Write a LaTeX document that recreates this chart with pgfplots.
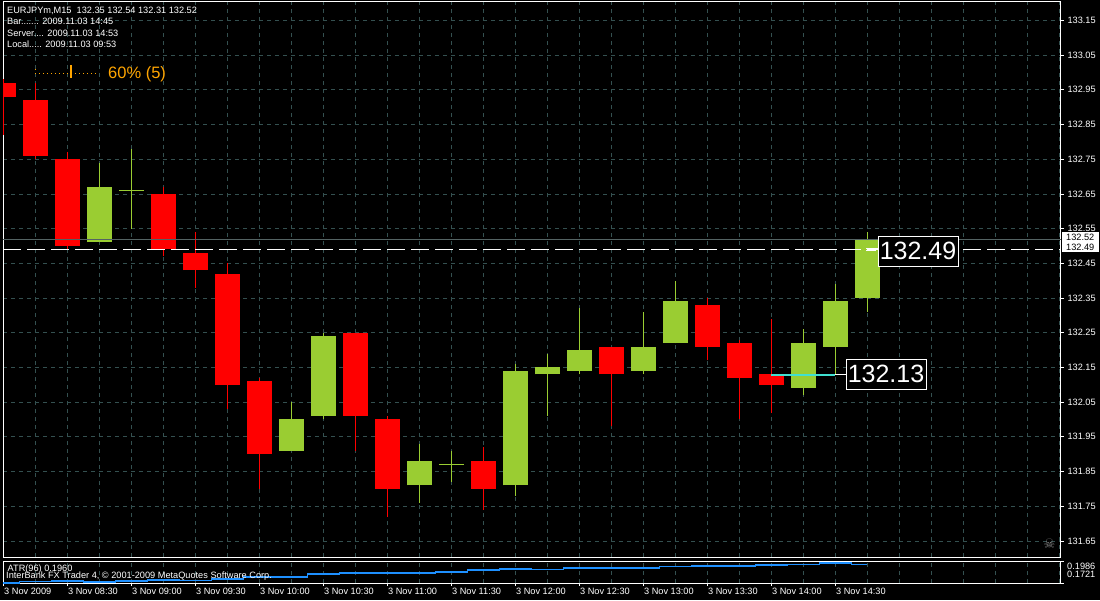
\documentclass[border=0pt]{standalone}
\usepackage{fontspec}
\setmainfont{Liberation Sans}
\newfontfamily\symfont{DejaVu Sans}
\usepackage{pgfplots}
\pgfplotsset{compat=1.18}
\usepackage{pgfplotstable}

\definecolor{bull}{RGB}{154,205,50}
\definecolor{bear}{RGB}{255,0,0}
\definecolor{gridc}{RGB}{52,80,80}
\definecolor{bidc}{RGB}{84,99,99}
\definecolor{atrc}{RGB}{30,144,255}
\definecolor{lblo}{RGB}{255,165,0}
\definecolor{trendc}{RGB}{64,224,208}
\newcommand\fs{\fontsize{9.2}{11}\selectfont}

% EURJPYm M15, bar index 0 = 08:00
\pgfplotstableread{
i o h l c
0 132.97 132.98 132.82 132.93
1 132.92 132.97 132.75 132.76
2 132.75 132.77 132.49 132.50
5 132.65 132.67 132.47 132.49
6 132.48 132.54 132.38 132.43
7 132.42 132.45 132.03 132.10
8 132.11 132.12 131.80 131.90
11 132.25 132.25 131.91 132.01
12 132.00 132.01 131.72 131.80
15 131.88 131.92 131.74 131.80
19 132.21 132.21 131.98 132.13
22 132.33 132.35 132.17 132.21
23 132.22 132.23 132.00 132.12
24 132.13 132.29 132.02 132.10
}\bear

\pgfplotstableread{
i o h l c
3 132.51 132.74 132.51 132.67
9 131.91 132.05 131.91 132.00
10 132.01 132.25 132.00 132.24
13 131.81 131.93 131.76 131.88
16 131.81 132.16 131.78 132.14
17 132.13 132.19 132.01 132.15
18 132.14 132.32 132.13 132.20
20 132.14 132.31 132.13 132.21
21 132.22 132.40 132.22 132.34
25 132.09 132.26 132.07 132.22
26 132.21 132.39 132.13 132.34
27 132.35 132.54 132.31 132.52
}\bull

\pgfplotstableread{
i o h l c
4 132.66 132.78 132.55 132.66
14 131.87 131.91 131.82 131.87
}\doji

\pgfplotstableread{
i atr
0 0.1721
1 0.1738
2 0.1745
3 0.1733
4 0.1745
5 0.1757
6 0.1751
7 0.1769
8 0.1793
9 0.1793
10 0.1829
11 0.1841
12 0.1841
13 0.1841
14 0.1854
15 0.1878
16 0.1890
17 0.1882
18 0.1902
19 0.1902
20 0.1902
21 0.1916
22 0.1926
23 0.1926
24 0.1938
25 0.1946
26 0.1962
27 0.1946
}\atr

\pgfplotsset{
  candle/.style 2 args={only marks, mark=*, mark size=0pt, mark options={draw=none, fill=none},
    error bars/.cd, y dir=plus, y explicit, error mark=none,
    error bar style={line width=#2, #1}},
}

\begin{document}
\begin{tikzpicture}
\fill[black] (0,0) rectangle (1100pt,-600pt);

\begin{axis}[
  at={(3pt,-557pt)}, anchor=south west,
  width=1058pt, height=556pt, scale only axis,
  xmin=-0.0156, xmax=33.05, ymin=131.6036, ymax=133.2059,
  axis line style={white, line width=1pt},
  xtick={0,...,33}, xticklabels={}, xtick style={draw=none},
  ytick={131.65,131.75,131.85,131.95,132.05,132.15,132.25,132.35,132.45,132.55,132.65,132.75,132.85,132.95,133.05,133.15},
  ytick pos=right, yticklabel pos=right,
  tick align=outside, major tick length=3pt,
  ytick style={white, line width=0.8pt},
  grid=major, grid style={gridc, dash pattern=on 4pt off 4pt, line width=0.8pt},
  /pgf/number format/assume math mode=true,
  yticklabel style={white, font=\fs, /pgf/number format/fixed, /pgf/number format/fixed zerofill, /pgf/number format/precision=2},
]
% wicks
\addplot[bear, candle={bear}{1pt}] table[x=i, y=l, y error expr=\thisrow{h}-\thisrow{l}] {\bear};
\addplot[bull, candle={bull}{1pt}] table[x=i, y=l, y error expr=\thisrow{h}-\thisrow{l}] {\bull};
\addplot[bull, candle={bull}{1pt}] table[x=i, y=l, y error expr=\thisrow{h}-\thisrow{l}] {\doji};
% bodies
\addplot[bear, candle={bear}{25pt}] table[x=i, y=c, y error expr=\thisrow{o}-\thisrow{c}] {\bear};
\addplot[bull, candle={bull}{25pt}] table[x=i, y=o, y error expr=\thisrow{c}-\thisrow{o}] {\bull};
\addplot[bull, only marks, mark=-, mark size=12.5pt, mark options={line width=1.2pt}]
  table[x=i, y=o] {\doji};
% price lines
\addplot[bidc, line width=1pt] coordinates {(-1,132.52) (40,132.52)};
\addplot[white, line width=1pt, dash pattern=on 18pt off 6pt] coordinates {(-0.0156,132.49) (40,132.49)};
\addplot[trendc, line width=2pt] coordinates {(24,132.128) (26,132.128)};
\end{axis}

\begin{axis}[
  at={(3pt,-583pt)}, anchor=south west,
  width=1058pt, height=22pt, scale only axis,
  xmin=-0.0156, xmax=33.05, ymin=0.1721, ymax=0.1986,
  axis line style={white, line width=1pt},
  xtick={0,2,...,26},
  xticklabels={3 Nov 2009,3 Nov 08:30,3 Nov 09:00,3 Nov 09:30,3 Nov 10:00,3 Nov 10:30,3 Nov 11:00,3 Nov 11:30,3 Nov 12:00,3 Nov 12:30,3 Nov 13:00,3 Nov 13:30,3 Nov 14:00,3 Nov 14:30},
  minor xtick={1,3,...,33,28,30,32},
  xmajorgrids, xminorgrids,
  grid style={gridc, dash pattern=on 4pt off 4pt, line width=0.8pt},
  minor grid style={gridc, dash pattern=on 4pt off 4pt, line width=0.8pt},
  xtick pos=left, ytick pos=right,
  tick align=outside, major tick length=3pt, minor tick length=0pt,
  tick style={white, line width=0.8pt},
  xticklabel style={white, font=\fs, anchor=north west, inner sep=0pt, xshift=0.5pt, yshift=-1.5pt},
  ytick={0.1721,0.1986}, yticklabels={},
]
\addplot[atrc, line width=1.2pt, const plot mark mid] table[x=i, y=atr] {\atr};
\end{axis}

% header text
\begin{scope}[every node/.style={inner sep=0pt, anchor=base west, text=white, font=\fs}]
\node at (7pt,-13.5pt) {EURJPYm,M15\ \ 132.35 132.54 132.31 132.52};
\node at (7pt,-24.5pt) {Bar....... 2009.11.03 14:45};
\node at (7pt,-36pt) {Server.... 2009.11.03 14:53};
\node at (7pt,-47.5pt) {Local..... 2009.11.03 09:53};
\node at (7.5pt,-571.5pt) {ATR(96) 0.1960};
\node at (6pt,-578.5pt) {InterBank FX Trader 4, © 2001-2009 MetaQuotes Software Corp.};
\node at (1067pt,-569.5pt) {0.1986};
\node at (1067pt,-577.5pt) {0.1721};
\end{scope}

% orange indicator label
\draw[lblo, line width=1pt, dash pattern=on 1pt off 3pt] (35pt,-73pt) -- (98pt,-73pt);
\fill[lblo] (34.5pt,-69.5pt) rectangle (35.5pt,-68.5pt);
\draw[lblo, line width=1.2pt] (71pt,-65pt) -- (71pt,-78pt);
\node[inner sep=0pt, anchor=base west, text=lblo, font=\fontsize{16.5}{18}\selectfont] at (108pt,-78pt) {60\% (5)};

% right scale price boxes
\fill[white] (1062pt,-232pt) rectangle (1099pt,-252pt);
\node[inner sep=0pt, anchor=base west, text=black, font=\fs] at (1066pt,-240.5pt) {132.52};
\node[inner sep=0pt, anchor=base west, text=black, font=\fs] at (1066pt,-250.5pt) {132.49};

% price labels on chart
\draw[white, line width=1pt] (866pt,-248.5pt) -- (878pt,-248.5pt);
\draw[white, line width=1pt] (866pt,-250.5pt) -- (876pt,-250.5pt);
\node[draw=white, fill=black, line width=1pt, text=white, inner sep=0pt,
  minimum width=80pt, minimum height=30pt, font=\fontsize{25}{25}\selectfont] at (918pt,-251pt) {132.49};
\draw[white, line width=1pt] (835pt,-374pt) -- (846pt,-374pt);
\node[draw=white, fill=black, line width=1pt, text=white, inner sep=0pt,
  minimum width=80pt, minimum height=30pt, font=\fontsize{25}{25}\selectfont] at (886pt,-374pt) {132.13};

% expert icon
\node[inner sep=0pt, text=gray, font=\symfont\fontsize{13}{13}\selectfont] at (1049.5pt,-544pt) {☠};

\pgfresetboundingbox
\path (0,0) rectangle (1100pt,-600pt);
\end{tikzpicture}
\end{document}
